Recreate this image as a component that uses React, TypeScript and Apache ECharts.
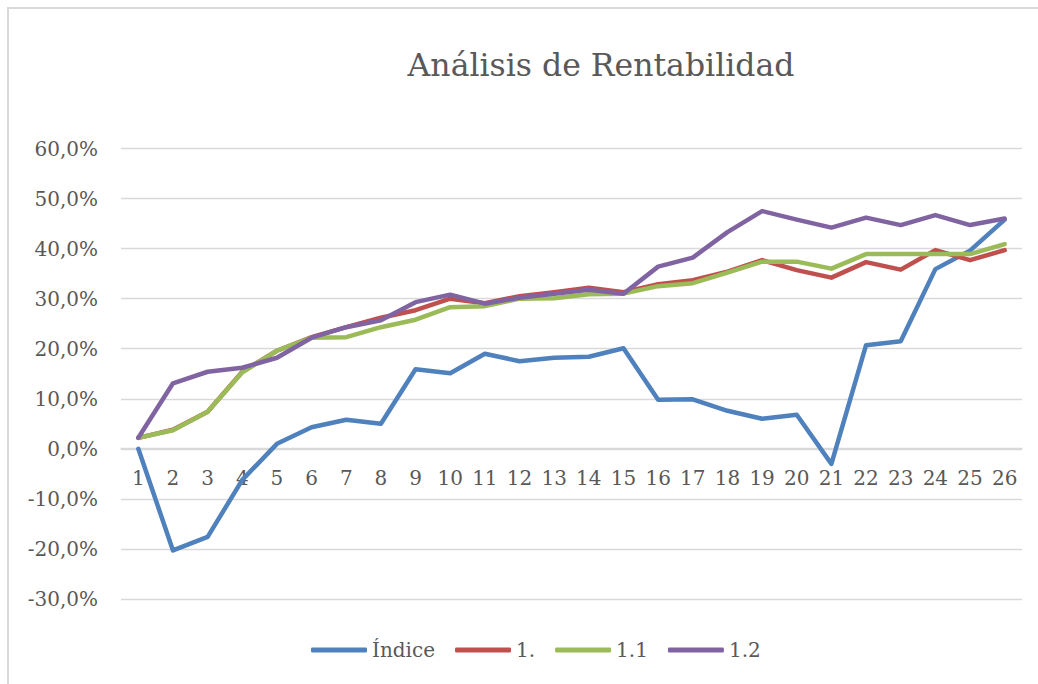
import React, { useEffect, useRef } from "react";
import * as echarts from "echarts";

const categories = ["1","2","3","4","5","6","7","8","9","10","11","12","13","14","15","16","17","18","19","20","21","22","23","24","25","26"];
const indice = [0.0, -20.3, -17.6, -6.2, 1.0, 4.3, 5.8, 5.0, 15.9, 15.1, 19.0, 17.5, 18.2, 18.4, 20.1, 9.8, 9.9, 7.6, 6.0, 6.8, -3.0, 20.7, 21.5, 35.9, 39.6, 45.8];
const serie1 = [2.2, 3.8, 7.4, 15.4, 19.6, 22.3, 24.3, 26.2, 27.7, 30.0, 29.1, 30.5, 31.3, 32.2, 31.3, 32.9, 33.7, 35.4, 37.7, 35.7, 34.2, 37.3, 35.8, 39.7, 37.7, 39.7];
const serie11 = [2.2, 3.7, 7.4, 15.3, 19.6, 22.2, 22.3, 24.3, 25.8, 28.3, 28.5, 30.0, 30.1, 30.9, 31.0, 32.5, 33.1, 35.2, 37.4, 37.4, 36.0, 38.9, 38.9, 38.9, 38.9, 40.9];
const serie12 = [2.2, 13.1, 15.4, 16.2, 18.2, 22.2, 24.3, 25.7, 29.3, 30.8, 29.0, 30.2, 31.0, 31.8, 31.0, 36.4, 38.2, 43.3, 47.5, 45.8, 44.2, 46.2, 44.7, 46.7, 44.7, 46.0];
const seriesNames = ["Índice", "1.", "1.1", "1.2"];
const seriesColors = ["#4F81BD", "#C0504D", "#9BBB59", "#8064A2"];

const FONT = "DejaVu Serif";
const TXT = "#595959";

export default function App() {
  const ref = useRef<HTMLDivElement>(null);
  useEffect(() => {
    if (!ref.current) return;
    const chart = echarts.init(ref.current, null, { renderer: "svg" });
    const data = [indice, serie1, serie11, serie12];
    chart.setOption({
      animation: false,
      backgroundColor: "#ffffff",
      title: {
        text: "Análisis de Rentabilidad",
        left: 596,
        top: 44,
        textAlign: "center",
        textStyle: { fontFamily: FONT, fontSize: 31.5, fontWeight: "normal", color: TXT },
      },
      graphic: [
        {
          type: "rect",
          shape: { x: 8, y: 8, width: 1100, height: 700 },
          style: { fill: "none", stroke: "#d9d9d9", lineWidth: 2 },
          silent: true,
        },
      ],
      legend: {
        bottom: 19,
        left: 306,
        icon: "roundRect",
        itemWidth: 56,
        itemHeight: 5,
        itemGap: 20,
        textStyle: { fontFamily: FONT, fontSize: 20, color: TXT },
        data: seriesNames,
      },
      grid: { left: 121, right: 16, top: 148.5, bottom: 85, containLabel: false },
      xAxis: {
        type: "category",
        data: categories,
        boundaryGap: true,
        offset: -150.5,
        axisLine: { show: true, onZero: false, lineStyle: { color: "#d9d9d9", width: 1.3 } },
        axisTick: { show: false },
        axisLabel: { fontFamily: FONT, fontSize: 20, color: TXT, margin: 19, interval: 0 },
      },
      yAxis: {
        type: "value",
        min: -30,
        max: 60,
        interval: 10,
        axisLine: { show: false },
        axisTick: { show: false },
        splitLine: { lineStyle: { color: "#d9d9d9", width: 1.3 } },
        axisLabel: {
          fontFamily: FONT,
          fontSize: 20,
          color: TXT,
          margin: 23,
          formatter: (v: number) => v.toFixed(1).replace(".", ",") + "%",
        },
      },
      series: data.map((d, i) => ({
        name: seriesNames[i],
        type: "line",
        data: d,
        showSymbol: false,
        symbol: "none",
        color: seriesColors[i],
        lineStyle: { width: 4.5, color: seriesColors[i], cap: "round", join: "round" },
        z: 2 + i,
      })),
    });
    return () => chart.dispose();
  }, []);
  return (
    <div
      ref={ref}
      style={{ position: "fixed", left: 0, top: 0, width: 1038, height: 684 }}
    />
  );
}
